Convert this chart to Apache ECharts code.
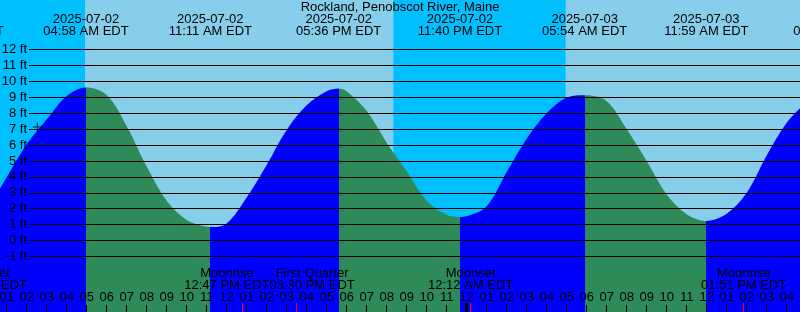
<!DOCTYPE html>
<html><head><meta charset="utf-8">
<script src="https://cdn.jsdelivr.net/npm/echarts@6/dist/echarts.min.js"></script>
<style>html,body{margin:0;padding:0;background:#87CEEB}#c{width:800px;height:312px}</style>
</head><body><div id="c"></div>
<script>
// ---------- data ----------
const titleText = 'Rockland, Penobscot River, Maine';
const tideEventTimes = ['2025-07-01 10:43 PM','2025-07-02 04:58 AM','2025-07-02 11:11 AM','2025-07-02 05:36 PM','2025-07-02 11:40 PM','2025-07-03 05:54 AM','2025-07-03 11:59 AM','2025-07-03 06:28 PM'];
const tideEventKinds = ['L','H','L','H','L','H','L','H'];
const tideEventFeet = [null, 9.62, 0.85, 9.55, 1.48, 9.12, 1.23, null];
// hours since 2025-07-02 00:00 EDT and water level (ft)
const curveHours = [0,1,2,3,4,6,7,8,9,10,11,12,13,14,15,16,17,18,19,20,21,22,23,24,25,26,27,28,29,31,32,33,34,35,37,38,39,40,41];
const curveFeet  = [1.8,3.97,6.05,7.6,9.08,9.15,7.2,4.65,2.5,1.3,0.87,1.08,2.7,4.75,6.95,8.5,9.38,9.38,8.15,6.15,4.35,2.5,1.62,1.52,2.15,4.3,6.4,8.0,8.97,8.75,7.0,5.0,2.9,1.66,1.68,3.0,5.35,7.4,8.7];
const moonEventNames = ['Moonset','Moonrise','First Quarter','Moonset','Moonrise'];
const moonEventTimes = ['2025-07-01 11:54 PM','2025-07-02 12:47 PM','2025-07-02 03:30 PM','2025-07-03 12:12 AM','2025-07-03 01:51 PM'];
const sunEventKinds = ['rise','set','rise'];
const sunEventTimes = ['2025-07-02 04:55 AM','2025-07-02 08:20 PM','2025-07-03 04:57 AM'];
const nowMarkTime = '2025-07-02 02:32 AM';
const nowMarkFeet = 7.14;
const hourTicks = [1,2,3,4,5,6,7,8,9,10,11,12,13,14,15,16,17,18,19,20,21,22,23,24,25,26,27,28,29,30,31,32,33,34,35,36,37,38,39,40];
const dayTicks = [24];
const levelRange = [-1, 12]; // range of the labelled foot lines

// ---------- layout / style ----------
const FONT = '"Liberation Sans", Arial, sans-serif';
const X_MIN = 2/3, X_MAX = 40 + 2/3;
const Y_MIN = -4.4855, Y_MAX = 15.1087;
const C_DAY = '#87CEEB', C_NIGHT = '#00BFFF', C_FLOOD = '#0000FF', C_EBB = '#2E8B57';

function toHours(s){
  const m = s.match(/(\d+)-(\d+)-(\d+) (\d+):(\d+) (AM|PM)/);
  let hh = (+m[4]) % 12; if (m[6] === 'PM') hh += 12;
  return (+m[3] - 2) * 24 + hh + (+m[5]) / 60;
}
const evH = tideEventTimes.map(toHours);
// single curve: hourly readings plus the extremes
const pts = curveHours.map((h, i) => [h, curveFeet[i]]);
tideEventTimes.forEach((t, i) => { if (tideEventFeet[i] != null) pts.push([evH[i], tideEventFeet[i]]); });
pts.sort((a, b) => a[0] - b[0]);
// colour pieces: flood (rising, after a low) / ebb (falling, after a high)
const pieces = [];
for (let i = 0; i < evH.length; i++) {
  const p = {color: tideEventKinds[i] === 'L' ? C_FLOOD : C_EBB, gte: evH[i]};
  if (i + 1 < evH.length) p.lt = evH[i + 1];
  pieces.push(p);
}
pieces.unshift({lt: evH[0], color: tideEventKinds[0] === 'L' ? C_EBB : C_FLOOD});
// night bands
const nights = [];
let start = X_MIN - 1;
sunEventTimes.forEach((t, i) => {
  const h = toHours(t);
  if (sunEventKinds[i] === 'rise') { nights.push([start, h]); start = null; }
  else start = h;
});
if (start != null) nights.push([start, X_MAX + 1]);

const fmtHour = v => { const r = Math.round(v) % 12; return String(r === 0 ? 12 : r).padStart(2, '0'); };

const chart = echarts.init(document.getElementById('c'), null, {renderer: 'canvas'});
const option = {
  animation: false,
  visualMap: {type: 'piecewise', show: false, dimension: 0, seriesIndex: 1, pieces: pieces},
  grid: [
    {left: 0, right: 0, top: 0, bottom: 0, show: true, backgroundColor: C_DAY, borderWidth: 0, containLabel: false, outerBoundsMode: 'none'},
    {left: 29, right: 0, top: 49.5, bottom: 55.5, show: false, containLabel: false, outerBoundsMode: 'none'}
  ],
  xAxis: [
    {type: 'value', gridIndex: 0, min: X_MIN, max: X_MAX, position: 'bottom', z: 4,
     axisLine: {show: false, onZero: false}, splitLine: {show: false},
     axisTick: {show: true, inside: true, length: 7, customValues: hourTicks, lineStyle: {color: '#000', width: 1}},
     axisLabel: {show: true, inside: true, customValues: hourTicks, margin: 15, verticalAlign: 'middle', formatter: fmtHour, color: '#000', fontSize: 13, fontFamily: FONT}},
    {type: 'value', gridIndex: 0, min: X_MIN, max: X_MAX, position: 'bottom', z: 4,
     axisLine: {show: false, onZero: false}, splitLine: {show: false}, axisLabel: {show: false},
     axisTick: {show: true, inside: true, length: 9, customValues: dayTicks, lineStyle: {color: '#000', width: 3}}},
    {type: 'value', gridIndex: 0, min: X_MIN, max: X_MAX, position: 'bottom', z: 5,
     axisLine: {show: false, onZero: false}, splitLine: {show: false}, axisLabel: {show: false},
     axisTick: {show: true, inside: true, length: 9, customValues: moonEventTimes.map(toHours).filter(h => h >= X_MIN && h <= X_MAX), lineStyle: {color: '#FF0000', width: 1}}},
    {type: 'value', gridIndex: 1, min: 0, max: 1, show: false}
  ],
  yAxis: [
    {type: 'value', gridIndex: 0, min: Y_MIN, max: Y_MAX, show: false, splitLine: {show: false}},
    {type: 'value', gridIndex: 1, min: levelRange[0], max: levelRange[1], interval: 1, z: 3,
     axisLine: {show: false}, axisTick: {show: false},
     splitLine: {show: true, lineStyle: {color: '#000', width: 1}},
     axisLabel: {show: true, margin: 2, formatter: '{value} ft', color: '#000', fontSize: 13, fontFamily: FONT}}
  ],
  series: [
    {type: 'custom', name: 'night', xAxisIndex: 0, yAxisIndex: 0, z: 1, clip: true, silent: true,
     data: nights, encode: {x: [0, 1]},
     renderItem: (params, api) => {
       const p0 = api.coord([api.value(0), Y_MAX]);
       const p1 = api.coord([api.value(1), Y_MIN]);
       return {type: 'rect', shape: {x: p0[0], y: p0[1], width: p1[0] - p0[0], height: p1[1] - p0[1]}, style: {fill: C_NIGHT}};
     }},
    {type: 'line', name: 'tide', xAxisIndex: 0, yAxisIndex: 0, data: pts, smooth: 0.34, symbol: 'none', showSymbol: false,
     z: 2, silent: true, lineStyle: {width: 0, opacity: 0},
     areaStyle: {opacity: 1, origin: 'start'}},
    {type: 'scatter', name: 'now', xAxisIndex: 0, yAxisIndex: 0, z: 6, silent: true,
     data: [[toHours(nowMarkTime), nowMarkFeet]],
     symbol: 'path://M4,0L5,0L5,9L4,9ZM0,4L9,4L9,5L0,5Z', symbolSize: 9, itemStyle: {color: '#000'}}
  ]
};
chart.setOption(option);

// ---------- event labels (x from the chart's own time scale) ----------
const px = h => chart.convertToPixel({xAxisIndex: 0}, h);
const mctx = document.createElement('canvas').getContext('2d');
mctx.font = '13px ' + FONT;
const tw = s => mctx.measureText(s).width;
const txt = (x, y, text) => ({type: 'text', x: x, y: y, z: 100, silent: true,
  style: {text: text, fill: '#000', font: '13px ' + FONT, align: 'center', verticalAlign: 'middle', textAlign: 'center', textVerticalAlign: 'middle'}});
// push overlapping label blocks apart symmetrically
function spread(items){
  for (let it = 0; it < 20; it++) {
    let moved = false;
    for (let i = 1; i < items.length; i++) {
      const a = items[i - 1], b = items[i];
      const need = (a.w + b.w) / 2;
      const d = b.x - a.x;
      if (d < need - 0.01) { const s = (need - d) / 2; a.x -= s; b.x += s; moved = true; }
    }
    if (!moved) break;
  }
  return items;
}
const g = [txt(400, 7.2, titleText)];
spread(tideEventTimes.map(t => {
  const l1 = t.slice(0, 10), l2 = t.slice(11) + ' EDT';
  return {x: px(toHours(t)), w: Math.max(tw(l1), tw(l2)), l1, l2};
})).forEach(o => { g.push(txt(o.x, 19.5, o.l1)); g.push(txt(o.x, 31.5, o.l2)); });
spread(moonEventTimes.map((t, i) => {
  const l1 = moonEventNames[i], l2 = t.slice(11) + ' EDT';
  return {x: px(toHours(t)), w: Math.max(tw(l1), tw(l2)), l1, l2};
})).forEach(o => { g.push(txt(o.x, 273.8, o.l1)); g.push(txt(o.x, 285.5, o.l2)); });
chart.setOption({graphic: {elements: g}});
</script></body></html>
